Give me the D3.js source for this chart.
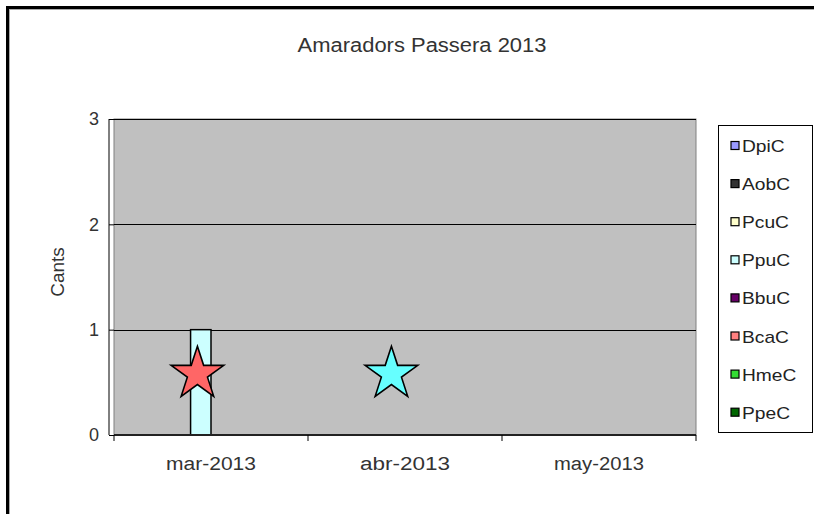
<!DOCTYPE html>
<html>
<head>
<meta charset="utf-8">
<script src="https://cdn.jsdelivr.net/npm/d3@7"></script>
<style>
  body { margin: 0; background: #fff; }
  text { font-family: Arial, "Liberation Sans", sans-serif; fill: #222; }
</style>
</head>
<body>
<div id="chart"></div>
<script>
// chart data
let months = ['mar-2013', 'abr-2013', 'may-2013'];
let seriesNames = ['DpiC', 'AobC', 'PcuC', 'PpuC', 'BbuC', 'BcaC', 'HmeC', 'PpeC'];
let seriesColors = ['#9999ff', '#333333', '#ffffcc', '#ccffff', '#660066', '#ff8080', '#33dd33', '#006600'];
// counts per series, one value per month
let seriesValues = [
    [0, 0, 0],
    [0, 0, 0],
    [0, 0, 0],
    [1, 0, 0],
    [0, 0, 0],
    [0, 0, 0],
    [0, 0, 0],
    [0, 0, 0]
];
// star shapes drawn over the plot
let starMonths = ['mar-2013', 'abr-2013'];
let starValues = [0.58, 0.58];
let starColors = ['#ff6666', '#66ffff'];
let yTicks = [0, 1, 2, 3];

let svgWidth = 814;
let svgHeight = 514;

let margin = { top: 119, right: 118, bottom: 79, left: 114 };
let width = svgWidth - margin.left - margin.right;
let height = svgHeight - margin.top - margin.bottom;

let svg = d3.select('#chart')
    .append('svg')
    .attr('width', svgWidth)
    .attr('height', svgHeight);

// outer frame
svg.append('rect')
    .attr('x', 7.5).attr('y', 7.5)
    .attr('width', 840).attr('height', 540)
    .attr('fill', 'none')
    .attr('stroke', '#000')
    .attr('stroke-width', 3);
svg.append('rect')
    .attr('x', 9.5).attr('y', 9.5)
    .attr('width', 840).attr('height', 540)
    .attr('fill', 'none')
    .attr('stroke', '#aaa')
    .attr('stroke-width', 1);

// title
svg.append('text')
    .attr('x', 422)
    .attr('y', 52)
    .attr('text-anchor', 'middle')
    .attr('font-size', '20px')
    .attr('textLength', 249)
    .attr('lengthAdjust', 'spacingAndGlyphs')
    .style('fill', '#333')
    .text('Amaradors  Passera  2013');

let chartGroup = svg.append('g')
    .attr('transform', `translate(${margin.left}, ${margin.top})`);

// scales
let xScale = d3.scaleBand()
    .domain(months)
    .range([0, width]);

let x1 = d3.scaleBand()
    .domain(seriesNames)
    .range([0, xScale.bandwidth()])
    .paddingOuter(0.75)
    .paddingInner(0);

let yScale = d3.scaleLinear()
    .domain([0, 3])
    .range([height, 0]);

// plot background
chartGroup.append('rect')
    .attr('width', width)
    .attr('height', height)
    .attr('fill', '#c0c0c0')
    .attr('stroke', '#808080');

// gridlines
chartGroup.selectAll('.grid')
    .data(yTicks.filter(d => d > 0))
    .enter()
    .append('line')
    .attr('x1', 0)
    .attr('x2', width)
    .attr('y1', d => Math.round(yScale(d)) + 0.5)
    .attr('y2', d => Math.round(yScale(d)) + 0.5)
    .attr('stroke', '#000');

// bars
let barData = [];
seriesNames.forEach(function (name, i) {
    months.forEach(function (m, j) {
        barData.push({ series: name, month: m, value: seriesValues[i][j], color: seriesColors[i] });
    });
});

chartGroup.selectAll('.bar')
    .data(barData.filter(d => d.value > 0))
    .enter()
    .append('rect')
    .attr('x', d => xScale(d.month) + x1(d.series))
    .attr('y', d => yScale(d.value))
    .attr('width', x1.bandwidth())
    .attr('height', d => yScale(0) - yScale(d.value))
    .attr('fill', d => d.color)
    .attr('stroke', '#000')
    .attr('stroke-width', 1.5);

// stars
let starPath = d3.symbol().type(d3.symbolStar).size(860);
chartGroup.selectAll('.star')
    .data(starMonths.map((m, i) => ({ month: m, value: starValues[i], color: starColors[i] })))
    .enter()
    .append('path')
    .attr('d', starPath)
    .attr('transform', d => `translate(${xScale(d.month) + xScale.bandwidth() * 0.43}, ${yScale(d.value)})`)
    .attr('fill', d => d.color)
    .attr('stroke', '#000')
    .attr('stroke-width', 1.6);

// axes
let leftAxis = d3.axisLeft(yScale)
    .tickValues(yTicks)
    .tickSize(5)
    .tickPadding(10)
    .tickFormat(d3.format('d'));

let yAxis = chartGroup.append('g')
    .call(leftAxis);
yAxis.select('.domain').attr('d', `M-5,${height}V0`).attr('stroke', '#000');
yAxis.selectAll('text')
    .attr('font-size', '18px')
    .style('fill', '#333');

let xAxis = chartGroup.append('g')
    .attr('transform', `translate(0, ${height})`);
xAxis.append('line')
    .attr('x1', 0).attr('x2', width)
    .attr('stroke', '#222').attr('stroke-width', 2);
xAxis.selectAll('.xtick')
    .data(months.concat(['end']))
    .enter()
    .append('line')
    .attr('x1', (d, i) => i < months.length ? xScale(d) : width)
    .attr('x2', (d, i) => i < months.length ? xScale(d) : width)
    .attr('y1', 0).attr('y2', 6)
    .attr('stroke', '#000');
xAxis.selectAll('.xlabel')
    .data(months)
    .enter()
    .append('text')
    .attr('x', d => xScale(d) + xScale.bandwidth() / 2)
    .attr('y', 35)
    .attr('text-anchor', 'middle')
    .attr('font-size', '18px')
    .attr('textLength', 90)
    .attr('lengthAdjust', 'spacingAndGlyphs')
    .style('fill', '#333')
    .text(d => d);

// y label
svg.append('text')
    .attr('transform', 'translate(64, 272) rotate(-90)')
    .attr('text-anchor', 'middle')
    .attr('font-size', '19px')
    .style('fill', '#333')
    .text('Cants');

// legend
let legend = svg.append('g')
    .attr('transform', 'translate(718, 125)');
legend.append('rect')
    .attr('x', 0.5).attr('y', 0.5)
    .attr('width', 94).attr('height', 307)
    .attr('fill', '#fff')
    .attr('stroke', '#000');

let legendItems = legend.selectAll('.item')
    .data(seriesNames)
    .enter()
    .append('g')
    .attr('transform', (d, i) => `translate(13, ${21 + i * 38.1})`);
legendItems.append('rect')
    .attr('x', 0).attr('y', -4.5)
    .attr('width', 8).attr('height', 8)
    .attr('fill', (d, i) => seriesColors[i])
    .attr('stroke', '#000')
    .attr('stroke-width', 1.2);
legendItems.append('text')
    .attr('transform', 'translate(11, 6) scale(1.2, 1)')
    .attr('font-size', '16px')
    .style('fill', '#222')
    .text(d => d);
</script>
</body>
</html>
